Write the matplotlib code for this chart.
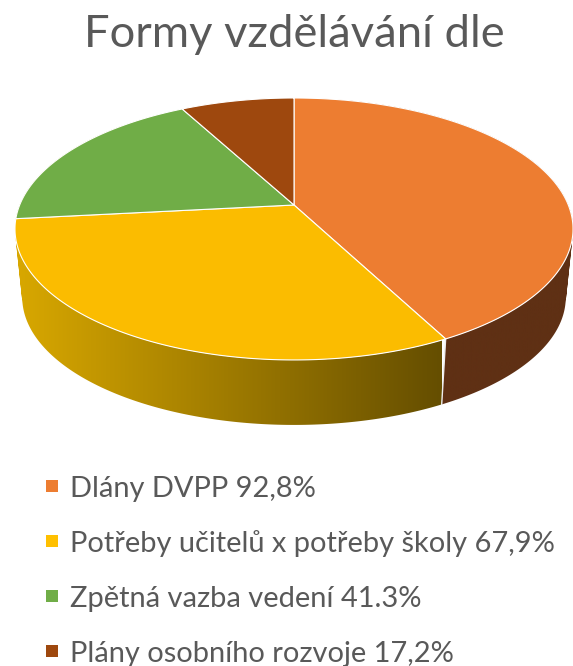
import numpy as np
import matplotlib
matplotlib.use("Agg")
import matplotlib.pyplot as plt
from matplotlib.path import Path
from matplotlib.patches import PathPatch, Polygon, Rectangle
from matplotlib.colors import LinearSegmentedColormap

title = "Formy vzdělávání dle"
labels = ["Dlány DVPP 92,8%", "Potřeby učitelů x potřeby školy 67,9%",
          "Zpětná vazba vedení 41.3%", "Plány osobního rozvoje 17,2%"]
values = [92.8, 67.9, 41.3, 17.2]
top_colors = ["#ED7D31", "#FBBC00", "#70AD47", "#9E480E"]
legend_colors = ["#ED7D31", "#FFC000", "#70AD47", "#9E480E"]
side_left = ["#5F3014", "#DAA900", "#47702B", "#5F2C08"]
side_right = ["#5F3014", "#654E00", "#47702B", "#5F2C08"]

W, H = 573, 666
plt.rcParams["font.family"] = ["Lato", "DejaVu Sans"]
fig = plt.figure(figsize=(W / 100, H / 100), dpi=100, facecolor="white")
ax = fig.add_axes([0, 0, 1, 1])
ax.set_xlim(0, W)
ax.set_ylim(H, 0)
ax.axis("off")

CX, CY, BX, BY, K = 294.0, 205.0, 274.3, 126.6, 0.183
DROP_Y, SCALE = 274.0, 0.974


def rim(a, lower=False):
    """Project angle (clockwise from 12 o'clock, radians) onto the tilted disc."""
    x, y = np.sin(a), np.cos(a)
    w = 1 + K * y
    s, cy = (SCALE, DROP_Y) if lower else (1.0, CY)
    return np.column_stack([CX + s * BX * x / w, cy - s * BY * y / w])


fractions = np.array(values) / np.sum(values)
edges = np.concatenate([[0], np.cumsum(fractions)]) * 2 * np.pi

# side wall: only the slices reaching the front are visible, the last front
# slice wraps round the left tangent
for i in range(2):
    end = edges[i + 1] if i == 0 else 1.75 * np.pi
    a = np.linspace(edges[i], end, 300)
    up, lo = rim(a), rim(a, True)
    verts, codes = [], []
    for j in range(len(a) - 1):
        q = np.array([up[j], up[j + 1], lo[j + 1], lo[j]])
        area = 0.5 * np.sum(q[:, 0] * np.roll(q[:, 1], -1) - np.roll(q[:, 0], -1) * q[:, 1])
        if area < 0:
            q = q[::-1]
        verts += list(q) + [q[0]]
        codes += [Path.MOVETO, Path.LINETO, Path.LINETO, Path.LINETO, Path.CLOSEPOLY]
    path = Path(np.array(verts), codes)
    cmap = LinearSegmentedColormap.from_list("s", [side_left[i], side_right[i]])
    x0, x1 = (10, 442) if i == 1 else (300, W)
    im = ax.imshow(np.linspace(0, 1, 512)[None, :], cmap=cmap, aspect="auto",
                   extent=[x0, x1, 440, 100], zorder=1)
    patch = PathPatch(path, transform=ax.transData, fc="none", ec="none")
    ax.add_patch(patch)
    im.set_clip_path(patch)
ax.set_xlim(0, W)
ax.set_ylim(H, 0)

# slice boundary on the side wall
p = np.vstack([rim(edges[1:2]), rim(edges[1:2], True)])
ax.plot(p[:, 0], p[:, 1], color="#EDEDED", lw=1.0, zorder=2)

# top surface
centre = np.array([[CX, CY]])
for i in range(len(values)):
    a = np.linspace(edges[i], edges[i + 1], 240)
    ax.add_patch(Polygon(np.vstack([centre, rim(a)]), closed=True, fc=top_colors[i],
                         ec="white", lw=0.8, zorder=3, joinstyle="round"))

ax.text(294, 47, title, ha="center", va="baseline", fontsize=32.6, color="#595959", zorder=5)

legend_y = [486, 541, 596, 651]
for lab, col, y in zip(labels, legend_colors, legend_y):
    ax.add_patch(Rectangle((46, y - 6), 12, 12, fc=col, ec="none", zorder=4))
    ax.text(70, y + 11, lab, ha="left", va="baseline", fontsize=20.9, color="#595959", zorder=5)

fig.savefig("out.png", dpi=100, facecolor="white")
